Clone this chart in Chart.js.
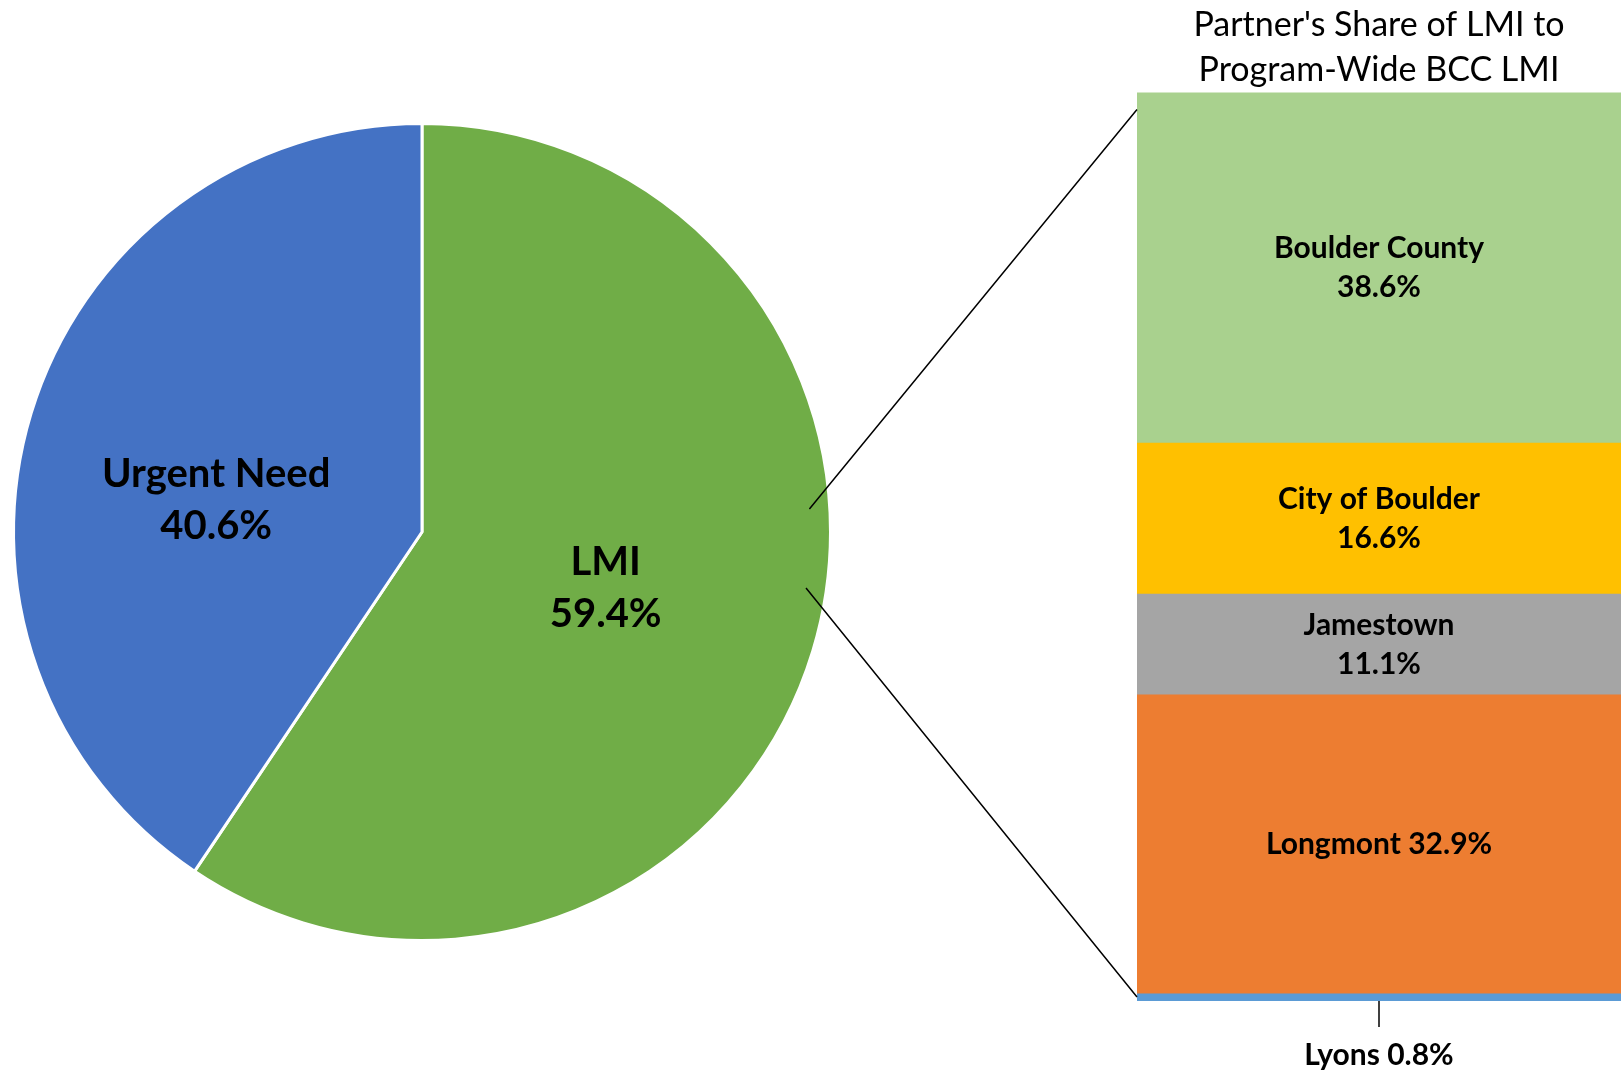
<!DOCTYPE html>
<html>
<head>
<meta charset="utf-8">
<script src="https://cdn.jsdelivr.net/npm/chart.js@4"></script>
<style>
  html, body { margin: 0; padding: 0; background: #fff; overflow: hidden; }
  canvas { position: absolute; left: 0; top: 0; }
</style>
</head>
<body>
<canvas id="pie" width="1621" height="1071"></canvas>
<canvas id="bar" width="1621" height="1071"></canvas>
<script>
// program-wide split
var pieLabels = ['LMI', 'Urgent Need'];
var pieValues = [59.4, 40.6];
var pieColors = ['#70AD47', '#4472C4'];

// partners' share of LMI, top to bottom
var partnerLabels = ['Boulder County', 'City of Boulder', 'Jamestown', 'Longmont', 'Lyons'];
var partnerValues = [38.6, 16.6, 11.1, 32.9, 0.8];
var partnerColors = ['#A9D18E', '#FFC000', '#A5A5A5', '#ED7D31', '#5B9BD5'];

var titleLines = ["Partner's Share of LMI to", 'Program-Wide BCC LMI'];

var FONT = 'Lato, "Noto Sans", sans-serif';
var deg = Math.PI / 180;

// labels inside the pie
var pieLabelPlugin = {
  id: 'pieLabels',
  afterDatasetsDraw: function(chart) {
    var ctx = chart.ctx;
    var shift = [0, -8 * deg]; // excel "best fit" nudge for the blue slice
    var dist = [0.47, 0.51];
    ctx.save();
    ctx.fillStyle = '#000';
    ctx.font = 'bold 40px ' + FONT;
    ctx.textAlign = 'center';
    ctx.textBaseline = 'middle';
    chart.getDatasetMeta(0).data.forEach(function(arc, i) {
      var mid = (arc.startAngle + arc.endAngle) / 2 + shift[i];
      var r = arc.outerRadius * dist[i];
      var x = arc.x + Math.cos(mid) * r;
      var y = arc.y + Math.sin(mid) * r;
      ctx.fillText(pieLabels[i], x, y - 26);
      ctx.fillText(pieValues[i].toFixed(1) + '%', x, y + 26);
    });
    ctx.restore();
  }
};

var pieChart = new Chart(document.getElementById('pie'), {
  type: 'pie',
  data: {
    labels: pieLabels,
    datasets: [{
      data: pieValues,
      backgroundColor: pieColors,
      borderColor: '#ffffff',
      borderWidth: 3
    }]
  },
  options: {
    responsive: false,
    animation: false,
    layout: { padding: { left: 12, top: 122, right: 789, bottom: 129 } },
    plugins: { legend: { display: false }, tooltip: { enabled: false } }
  },
  plugins: [pieLabelPlugin]
});

// stacked bar labels + connector lines to the pie
var barLabelPlugin = {
  id: 'barLabels',
  afterDatasetsDraw: function(chart) {
    var ctx = chart.ctx;
    var n = partnerLabels.length;
    ctx.save();
    ctx.fillStyle = '#000';
    ctx.font = 'bold 30px ' + FONT;
    ctx.textAlign = 'center';
    ctx.textBaseline = 'middle';
    for (var d = 0; d < n; d++) {
      var i = n - 1 - d; // datasets are stacked bottom-up
      var el = chart.getDatasetMeta(d).data[0];
      var name = partnerLabels[i];
      var pct = partnerValues[i].toFixed(1) + '%';
      var cy = (el.y + el.base) / 2;
      if (name == 'Lyons') {
        ctx.strokeStyle = '#000';
        ctx.lineWidth = 1.5;
        ctx.beginPath();
        ctx.moveTo(el.x, el.base);
        ctx.lineTo(el.x, el.base + 26);
        ctx.stroke();
        ctx.fillText(name + ' ' + pct, el.x, el.base + 54);
      } else if (name == 'Longmont') {
        ctx.fillText(name + ' ' + pct, el.x, cy);
      } else {
        ctx.fillText(name, el.x, cy - 19);
        ctx.fillText(pct, el.x, cy + 20);
      }
    }

    // lines from the LMI slice to the bar
    var arc = pieChart.getDatasetMeta(0).data[0];
    var area = chart.chartArea;
    var r = arc.outerRadius * 0.95;
    ctx.strokeStyle = '#000';
    ctx.lineWidth = 1.5;
    ctx.beginPath();
    ctx.moveTo(arc.x + Math.cos(-3.4 * deg) * r, arc.y + Math.sin(-3.4 * deg) * r);
    ctx.lineTo(area.left, area.top + 17);
    ctx.moveTo(arc.x + Math.cos(8.3 * deg) * r, arc.y + Math.sin(8.3 * deg) * r);
    ctx.lineTo(area.left, area.bottom - 4);
    ctx.stroke();
    ctx.restore();
  }
};

var barDatasets = [];
for (var k = partnerLabels.length - 1; k >= 0; k--) {
  barDatasets.push({
    label: partnerLabels[k],
    data: [partnerValues[k]],
    backgroundColor: partnerColors[k],
    borderWidth: 0,
    barPercentage: 1,
    categoryPercentage: 1
  });
}

var barChart = new Chart(document.getElementById('bar'), {
  type: 'bar',
  data: { labels: [''], datasets: barDatasets },
  options: {
    responsive: false,
    animation: false,
    layout: { padding: { left: 1137, right: 0, top: 0, bottom: 70 } },
    plugins: {
      legend: { display: false },
      tooltip: { enabled: false },
      title: {
        display: true,
        text: titleLines,
        color: '#000',
        font: { family: FONT, size: 34, weight: 'normal', lineHeight: 1.33 },
        padding: { top: 2, bottom: 0 }
      }
    },
    scales: {
      x: { display: false, stacked: true },
      y: { display: false, stacked: true, min: 0, max: 100 }
    }
  },
  plugins: [barLabelPlugin]
});
</script>
</body>
</html>
